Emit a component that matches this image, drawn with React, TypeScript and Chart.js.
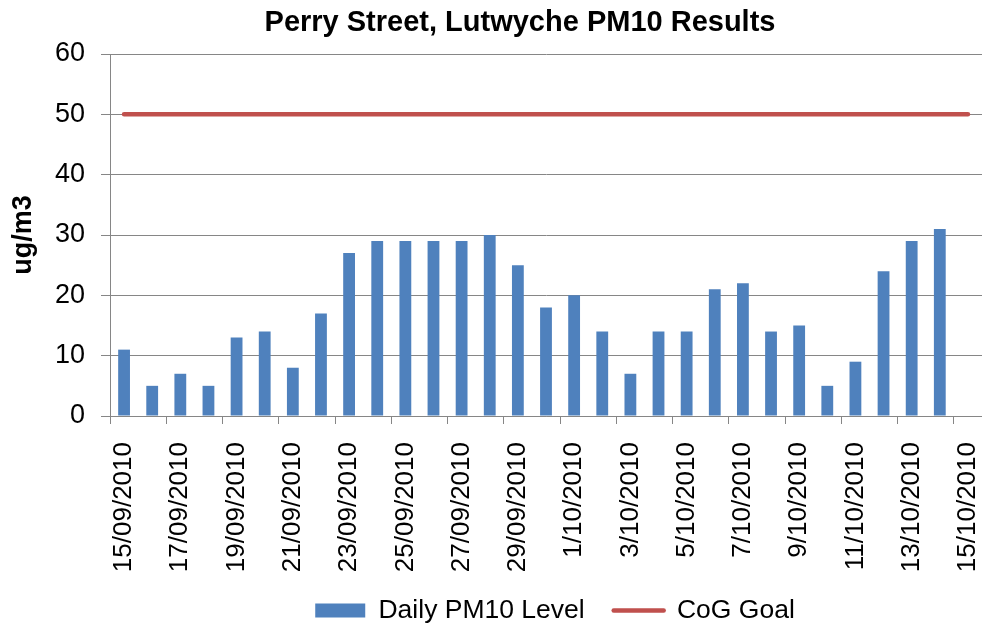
import React, { useEffect, useRef } from 'react';
import { Chart, registerables } from 'chart.js';

Chart.register(...registerables);

const chartTitle = 'Perry Street, Lutwyche PM10 Results';
const yAxisTitle = 'ug/m3';
const seriesNames = ['Daily PM10 Level', 'CoG Goal'];

const dates = [
  '15/09/2010', '16/09/2010', '17/09/2010', '18/09/2010', '19/09/2010', '20/09/2010',
  '21/09/2010', '22/09/2010', '23/09/2010', '24/09/2010', '25/09/2010', '26/09/2010',
  '27/09/2010', '28/09/2010', '29/09/2010', '30/09/2010', '1/10/2010', '2/10/2010',
  '3/10/2010', '4/10/2010', '5/10/2010', '6/10/2010', '7/10/2010', '8/10/2010',
  '9/10/2010', '10/10/2010', '11/10/2010', '12/10/2010', '13/10/2010', '14/10/2010',
  '15/10/2010',
];

const pm10 = [
  11, 5, 7, 5, 13, 14, 8, 17, 27, 29, 29, 29, 29, 30, 25, 18, 20, 14,
  7, 14, 14, 21, 22, 14, 15, 5, 9, 24, 29, 31, null,
];

const goal = [
  50, 50, 50, 50, 50, 50, 50, 50, 50, 50, 50, 50, 50, 50, 50, 50, 50, 50,
  50, 50, 50, 50, 50, 50, 50, 50, 50, 50, 50, 50, 50,
];

const yMin = 0;
const yMax = 60;
const yStep = 10;

const FONT = "'Liberation Sans', Arial, sans-serif";
const GRID = '#868686';
const BAR = '#4F81BD';
const LINE = '#C0504D';

export default function App() {
  const ref = useRef<HTMLCanvasElement>(null);

  useEffect(() => {
    const PLOT_BOTTOM = 416;
    const placeBlocks = {
      id: 'placeBlocks',
      beforeDraw(chart: any) {
        const w = chart.width;
        const lg = chart.legend;
        if (lg) {
          lg.left = 64;
          lg.right = 64 + w;
          lg.width = w;
          lg.top = 568.25;
          lg.bottom = 568.25 + 59;
        }
        const tb = chart.titleBlock;
        if (tb) {
          tb.left = 29;
          tb.right = 29 + w;
          tb.width = w;
        }
      },
    };

    const chart = new Chart(ref.current as HTMLCanvasElement, {
      type: 'bar',
      data: {
        labels: dates,
        datasets: [
          {
            type: 'bar',
            label: seriesNames[0],
            data: pm10 as any,
            backgroundColor: BAR,
            borderWidth: 0,
            categoryPercentage: 1,
            barPercentage: 0.42,
          },
          {
            type: 'line',
            label: seriesNames[1],
            data: goal,
            borderColor: LINE,
            backgroundColor: LINE,
            borderWidth: 4.5,
            borderCapStyle: 'round',
            pointRadius: 0,
            fill: false,
          } as any,
        ],
      },
      options: {
        responsive: false,
        animation: false,
        devicePixelRatio: 1,
        layout: { padding: 0 },
        plugins: {
          title: {
            display: true,
            text: chartTitle,
            color: '#000',
            font: { family: FONT, size: 29, weight: 'bold' },
            padding: { top: 5.5, bottom: 13.7 },
          },
          legend: {
            position: 'bottom',
            maxHeight: 1,
            labels: {
              usePointStyle: true,
              pointStyleWidth: 50,
              boxHeight: 14,
              padding: 29,
              color: '#000',
              font: { family: FONT, size: 26.5 },
              generateLabels: (c: any) => {
                const items = (Chart.defaults.plugins.legend.labels as any).generateLabels(c);
                items.sort((a: any, b: any) => a.datasetIndex - b.datasetIndex);
                items.forEach((it: any) => {
                  if (it.datasetIndex === 0) {
                    it.pointStyle = 'rect';
                    it.lineWidth = 0;
                    it.fillStyle = BAR;
                  } else {
                    it.pointStyle = 'line';
                    it.lineWidth = 4.5;
                    it.lineCap = 'round';
                    it.strokeStyle = LINE;
                  }
                });
                return items;
              },
            },
          },
          tooltip: { enabled: false },
        },
        scales: {
          x: {
            offset: true,
            grid: {
              offset: true,
              drawOnChartArea: false,
              drawTicks: true,
              tickLength: 8,
              color: (ctx: any) => (ctx.index !== undefined && ctx.index % 2 === 0 ? GRID : 'rgba(0,0,0,0)'),
            },
            border: { display: true, color: GRID },
            ticks: {
              autoSkip: false,
              minRotation: 90,
              maxRotation: 90,
              padding: 18,
              color: '#000',
              font: { family: FONT, size: 26 },
              callback: (_v: any, i: number) => (i % 2 === 0 ? dates[i] : ''),
            },
            afterFit: (s: any) => {
              s.height = s.chart.height - PLOT_BOTTOM - (s.chart.legend ? s.chart.legend.height : 0);
              s.paddingLeft = 0;
              s.paddingRight = 0;
            },
          },
          y: {
            min: yMin,
            max: yMax,
            ticks: {
              stepSize: yStep,
              padding: 16,
              color: '#000',
              font: { family: FONT, size: 27 },
            },
            grid: { color: GRID, tickLength: 9, drawTicks: true },
            border: { display: true, color: GRID },
            title: {
              display: true,
              text: yAxisTitle,
              color: '#000',
              font: { family: FONT, size: 27, weight: 'bold' },
              padding: { top: 7, bottom: 0 },
            },
            afterFit: (s: any) => {
              s.width = 110;
            },
          },
        },
      } as any,
      plugins: [placeBlocks],
    });

    return () => chart.destroy();
  }, []);

  return (
    <div style={{ position: 'absolute', left: 0, top: 0, width: 982, height: 628, background: '#fff' }}>
      <canvas ref={ref} width={982} height={628} style={{ display: 'block', width: 982, height: 628 }} />
    </div>
  );
}
